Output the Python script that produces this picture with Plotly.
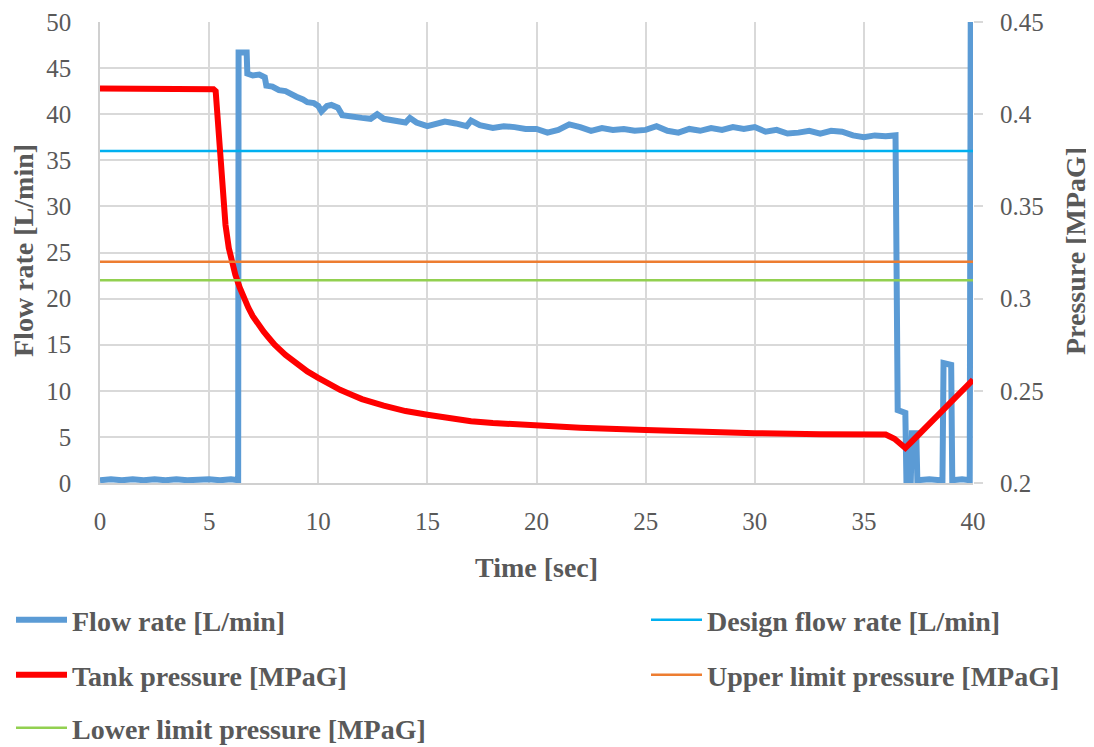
import plotly.graph_objects as go

# ---- data ----
flow_t = [0, 0.5, 1.0, 1.5, 2.0, 2.5, 3.0, 3.5, 4.0, 4.5, 5.0, 5.5, 6.0, 6.33,
          6.35, 6.72, 6.75, 7.0, 7.3, 7.55, 7.62, 7.9, 8.2, 8.5, 8.7, 9.0, 9.3, 9.5,
          9.8, 10.0, 10.15, 10.4, 10.6, 10.9, 11.1, 11.5, 12.0, 12.4, 12.7, 13.0,
          13.5, 14.0, 14.2, 14.5, 15.0, 15.4, 15.8, 16.3, 16.8, 17.0, 17.4, 18.0,
          18.5, 19.0, 19.5, 20.0, 20.5, 21.0, 21.5, 22.0, 22.5, 23.0, 23.5, 24.0,
          24.5, 25.0, 25.5, 26.0, 26.5, 27.0, 27.5, 28.0, 28.5, 29.0, 29.5, 30.0,
          30.5, 31.0, 31.5, 32.0, 32.5, 33.0, 33.5, 34.0, 34.5, 35.0, 35.5, 36.0,
          36.45, 36.55, 36.9, 36.95, 37.15, 37.2, 37.4, 37.45, 38.0, 38.5, 38.6,
          38.65, 39.0, 39.05, 39.5, 39.85, 39.9]
flow_v = [0.3, 0.4, 0.3, 0.4, 0.3, 0.4, 0.3, 0.4, 0.3, 0.4, 0.4, 0.3, 0.4, 0.3,
          46.7, 46.7, 44.4, 44.2, 44.3, 44.0, 43.1, 43.0, 42.6, 42.5, 42.2, 41.9, 41.6, 41.3,
          41.2, 40.9, 40.3, 40.9, 41.0, 40.7, 39.9, 39.7, 39.6, 39.5, 40.0, 39.5,
          39.3, 39.1, 39.6, 39.1, 38.7, 39.0, 39.2, 39.0, 38.7, 39.3, 38.8, 38.5,
          38.7, 38.6, 38.4, 38.4, 38.0, 38.3, 38.9, 38.6, 38.2, 38.5, 38.3, 38.4,
          38.2, 38.3, 38.7, 38.2, 38.0, 38.4, 38.2, 38.5, 38.3, 38.6, 38.4, 38.6,
          38.1, 38.3, 37.9, 38.0, 38.2, 37.9, 38.2, 38.1, 37.7, 37.5, 37.7, 37.6,
          37.7, 7.9, 7.6, 0.3, 0.3, 5.4, 5.4, 0.3, 0.4, 0.3, 0.3,
          13.0, 12.8, 0.3, 0.4, 0.3, 55.0]

press_t = [0, 2.5, 5.2, 5.3, 5.45, 5.6, 5.75, 5.9, 6.0, 6.2, 6.4, 6.6, 6.8, 7.0,
           7.25, 7.5, 7.75, 8.0, 8.5, 9.0, 9.5, 10, 10.5, 11, 11.5, 12, 13, 14, 15,
           16, 17, 18, 19, 20, 22, 25, 28, 30, 33, 35, 35.6, 36.0, 36.4, 36.7, 36.9,
           37.2, 38, 39, 40]
press_v = [0.414, 0.4138, 0.4135, 0.4125, 0.385, 0.360, 0.340, 0.3275, 0.322,
           0.313, 0.306, 0.300, 0.295, 0.2905, 0.286, 0.282, 0.2785, 0.275, 0.2695,
           0.2645, 0.2605, 0.257, 0.2535, 0.2505, 0.248, 0.2455, 0.242, 0.239, 0.237,
           0.235, 0.2335, 0.2325, 0.2318, 0.231, 0.230, 0.2288, 0.2275, 0.227, 0.2265,
           0.2265, 0.227, 0.2263, 0.224, 0.2215, 0.219, 0.2225, 0.232, 0.244, 0.256]

line_t = [0, 40]
design_flow = [36, 36]
upper_limit = [0.32, 0.32]
lower_limit = [0.31, 0.31]

names = ["Flow rate [L/min]", "Design flow rate [L/min]", "Tank pressure [MPaG]",
         "Upper limit pressure [MPaG]", "Lower limit pressure [MPaG]"]
x_title = "Time [sec]"
y_title = "Flow rate [L/min]"
y2_title = "Pressure [MPaG]"

FONT = "Liberation Serif"
GREY = "#595959"
GRID = "#D9D9D9"

# page has an 8px body margin: size the figure so it fits the 1094x747 window
OFF = 8
W, H = 1094 - OFF, 747 - OFF
PL, PR, PT, PB = 100, 973, 22, 483          # plot area in page pixels
PW, PH = PR - PL, PB - PT

fig = go.Figure()
fig.add_trace(go.Scatter(x=flow_t, y=flow_v, mode="lines", name=names[0],
                         line=dict(color="#5B9BD5", width=6), yaxis="y", legend="legend"))
fig.add_trace(go.Scatter(x=line_t, y=design_flow, mode="lines", name=names[1],
                         line=dict(color="#00B0F0", width=2.5), yaxis="y", legend="legend2"))
fig.add_trace(go.Scatter(x=press_t, y=press_v, mode="lines", name=names[2],
                         line=dict(color="#FF0000", width=6), yaxis="y2", legend="legend3"))
fig.add_trace(go.Scatter(x=line_t, y=upper_limit, mode="lines", name=names[3],
                         line=dict(color="#ED7D31", width=2.5), yaxis="y2", legend="legend4"))
fig.add_trace(go.Scatter(x=line_t, y=lower_limit, mode="lines", name=names[4],
                         line=dict(color="#92D050", width=2.5), yaxis="y2", legend="legend5"))

legfont = dict(family=FONT, size=28, color=GREY, weight="bold")


def leg(px, py):
    # px, py are page pixel positions
    return dict(x=(px - OFF) / W, y=1 - (py - OFF) / H, xref="container", yref="container",
                xanchor="left", yanchor="middle", font=legfont, itemwidth=51,
                bgcolor="rgba(0,0,0,0)", borderwidth=0)


tickfont = dict(family=FONT, size=25, color=GREY)
titlefont = dict(family=FONT, size=28, color=GREY, weight="bold")

fig.update_layout(
    width=W, height=H,
    margin=dict(l=PL - OFF, r=W - (PR - OFF), t=PT - OFF, b=H - (PB - OFF), autoexpand=False),
    paper_bgcolor="white", plot_bgcolor="white",
    showlegend=True,
    legend=leg(11, 620),
    legend2=leg(646, 620),
    legend3=leg(11, 675),
    legend4=leg(646, 675),
    legend5=leg(11, 728),
    xaxis=dict(range=[0, 40], dtick=5, tick0=0, showgrid=True, gridcolor=GRID, gridwidth=1.5,
               showline=True, linecolor="#D0D0D0", linewidth=1.5, zeroline=False,
               ticks="", tickfont=tickfont, ticklabelstandoff=15),
    yaxis=dict(range=[0, 50], dtick=5, tick0=0, showgrid=True, gridcolor=GRID, gridwidth=1.5,
               showline=True, linecolor="#D0D0D0", linewidth=1.5, zeroline=False,
               ticks="", tickfont=tickfont, ticklabelstandoff=22),
    yaxis2=dict(range=[0.2, 0.45], dtick=0.05, tick0=0.2, overlaying="y", side="right",
                showgrid=False, zeroline=False, showline=False,
                ticks="outside", ticklen=9, tickcolor=GRID, tickwidth=1.5,
                tickfont=tickfont, ticklabelstandoff=12),
    annotations=[
        dict(text=x_title, xref="paper", yref="paper", x=0.5, y=-(567 - PB) / PH,
             xanchor="center", yanchor="middle", showarrow=False, font=titlefont),
        dict(text=y_title, xref="paper", yref="paper", x=(24 - PL) / PW, y=(PB - 251) / PH,
             xanchor="center", yanchor="middle", textangle=-90, showarrow=False, font=titlefont),
        dict(text=y2_title, xref="paper", yref="paper", x=(1076 - PL) / PW, y=(PB - 251) / PH,
             xanchor="center", yanchor="middle", textangle=-90, showarrow=False, font=titlefont),
    ],
)

fig.write_html("out.html")
